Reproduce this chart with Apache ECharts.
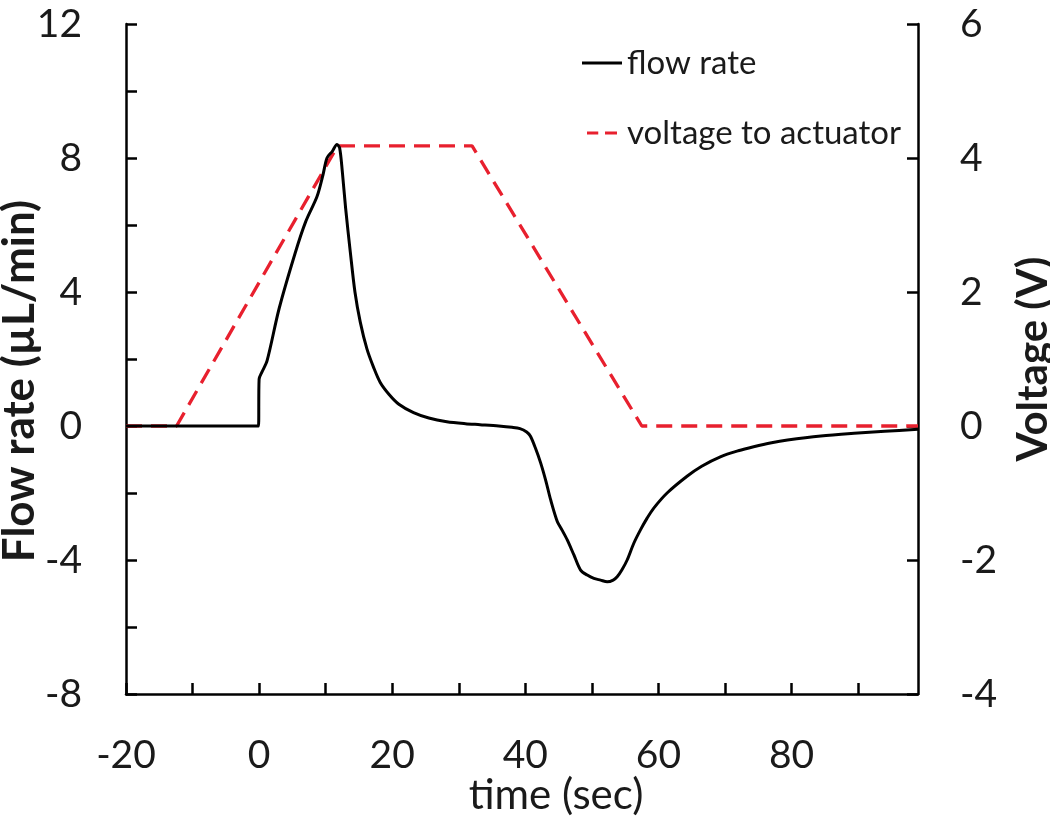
<!DOCTYPE html>
<html>
<head>
<meta charset="utf-8">
<script src="https://cdn.jsdelivr.net/npm/echarts@6/dist/echarts.min.js"></script>
<style>
html,body{margin:0;padding:0;background:#fff;}
#chart{width:1050px;height:829px;}
</style>
</head>
<body>
<div id="chart"></div>
<script>
// ---- data ----
const flowTime = [-20,-10,-0.1,0,0.4,1.2,3,5.4,7,8.7,9.6,10.2,11.0,11.7,12.1,12.5,13.0,13.7,14.4,15.2,16.2,17.2,18.2,19.5,21,23.2,25.5,28.2,31,33.2,36,38,39.2,40.2,40.75,41.5,42.3,43.1,43.8,44.8,45.5,46.3,47.3,48.3,49.3,50.3,51.3,52.3,53.2,53.8,54.5,55.3,56.3,57.3,58.3,59.3,61.3,64.3,66.5,69.3,72,74.3,77,79.4,84.4,89.4,94,99];
const flowValues = [0,0,0,1.4,1.6,1.95,3.5,5.15,6.1,6.85,7.5,8.0,8.2,8.4,8.3,7.6,6.5,5.2,4.0,3.1,2.3,1.75,1.3,0.95,0.65,0.4,0.24,0.13,0.07,0.04,0.0,-0.04,-0.08,-0.18,-0.3,-0.65,-1.1,-1.65,-2.2,-2.85,-3.1,-3.4,-3.85,-4.3,-4.45,-4.55,-4.6,-4.65,-4.6,-4.5,-4.3,-4.0,-3.5,-3.1,-2.75,-2.45,-2.0,-1.5,-1.2,-0.92,-0.74,-0.62,-0.5,-0.42,-0.3,-0.22,-0.16,-0.1];
const voltageTime = [-20,-12.4,11.8,32.0,57.5,99];
const voltageValues = [0,0,4.18,4.18,0,0];
const seriesNames = ['flow rate','voltage to actuator'];
const xTickLabels = [-20,0,20,40,60,80];
const leftTickLabels = [-8,-4,0,4,8,12];
const rightTickLabels = [-4,-2,0,2,4,6];

const FONT = 'Lato';
const TXT = '#1a1a1a';
const RED = '#e8202e';
const chart = echarts.init(document.getElementById('chart'), null, {renderer:'canvas'});

const axisLine = {show:true, onZero:false, lineStyle:{color:'#000', width:2.5}};
const axisTick = {show:true, inside:true, length:11, lineStyle:{color:'#000', width:2.5}};

chart.setOption({
  backgroundColor:'#fff',
  animation:false,
  grid:{left:126, right:132, top:24, bottom:135, containLabel:false, outerBoundsMode:'none'},
  legend:{
    orient:'vertical', left:577, top:40,
    itemWidth:40, itemHeight:3, itemGap:34,
    textStyle:{fontFamily:FONT, fontSize:33, color:TXT, lineHeight:36},
    data:[
      {name:seriesNames[0], icon:'rect', itemStyle:{color:'#000'}},
      {name:seriesNames[1], icon:'path://M0 0h15v4H0z M24 0h16v4H24z', itemStyle:{color:RED}}
    ]
  },
  xAxis:{
    type:'value', min:-20, max:99, interval:10,
    axisLine:axisLine, axisTick:axisTick, splitLine:{show:false},
    axisLabel:{
      margin:42, fontFamily:FONT, fontSize:39, color:TXT,
      showMaxLabel:false,
      formatter:v => xTickLabels.includes(v) ? String(v) : ''
    },
    name:'time (sec)', nameLocation:'middle', nameGap:80, nameMoveOverlap:false,
    nameTextStyle:{fontFamily:FONT, fontSize:42, color:TXT, padding:[0,0,0,68]}
  },
  yAxis:[{
    type:'value', min:-8, max:12, interval:2,
    axisLine:axisLine, axisTick:axisTick, splitLine:{show:false},
    axisLabel:{
      margin:44, fontFamily:FONT, fontSize:39, color:TXT,
      formatter:v => leftTickLabels.includes(v) ? String(v) : ''
    },
    name:'Flow rate (µL/min)', nameLocation:'middle', nameGap:84, nameMoveOverlap:false,
    nameTextStyle:{fontFamily:FONT, fontSize:44, fontWeight:'bold', color:TXT, padding:[0,44,0,0]}
  },{
    type:'value', min:-4, max:6, interval:2, position:'right',
    axisLine:axisLine, axisTick:axisTick, splitLine:{show:false},
    axisLabel:{
      margin:42, fontFamily:FONT, fontSize:39, color:TXT,
      formatter:v => rightTickLabels.includes(v) ? String(v) : ''
    },
    name:'Voltage (V)', nameLocation:'middle', nameGap:94, nameMoveOverlap:false,
    nameTextStyle:{fontFamily:FONT, fontSize:42, fontWeight:'bold', color:TXT}
  }],
  series:[{
    name:seriesNames[0], type:'line', yAxisIndex:0,
    showSymbol:false, symbol:'none', smooth:0.3,
    lineStyle:{color:'#000', width:3},
    itemStyle:{color:'#000'},
    data:flowTime.map((t,i)=>[t, flowValues[i]]),
    z:3
  },{
    name:seriesNames[1], type:'line', yAxisIndex:1,
    showSymbol:false, symbol:'none',
    lineStyle:{color:RED, width:3.3, type:[16,9]},
    itemStyle:{color:RED},
    data:voltageTime.map((t,i)=>[t, voltageValues[i]]),
    z:2
  }]
});
</script>
</body>
</html>
